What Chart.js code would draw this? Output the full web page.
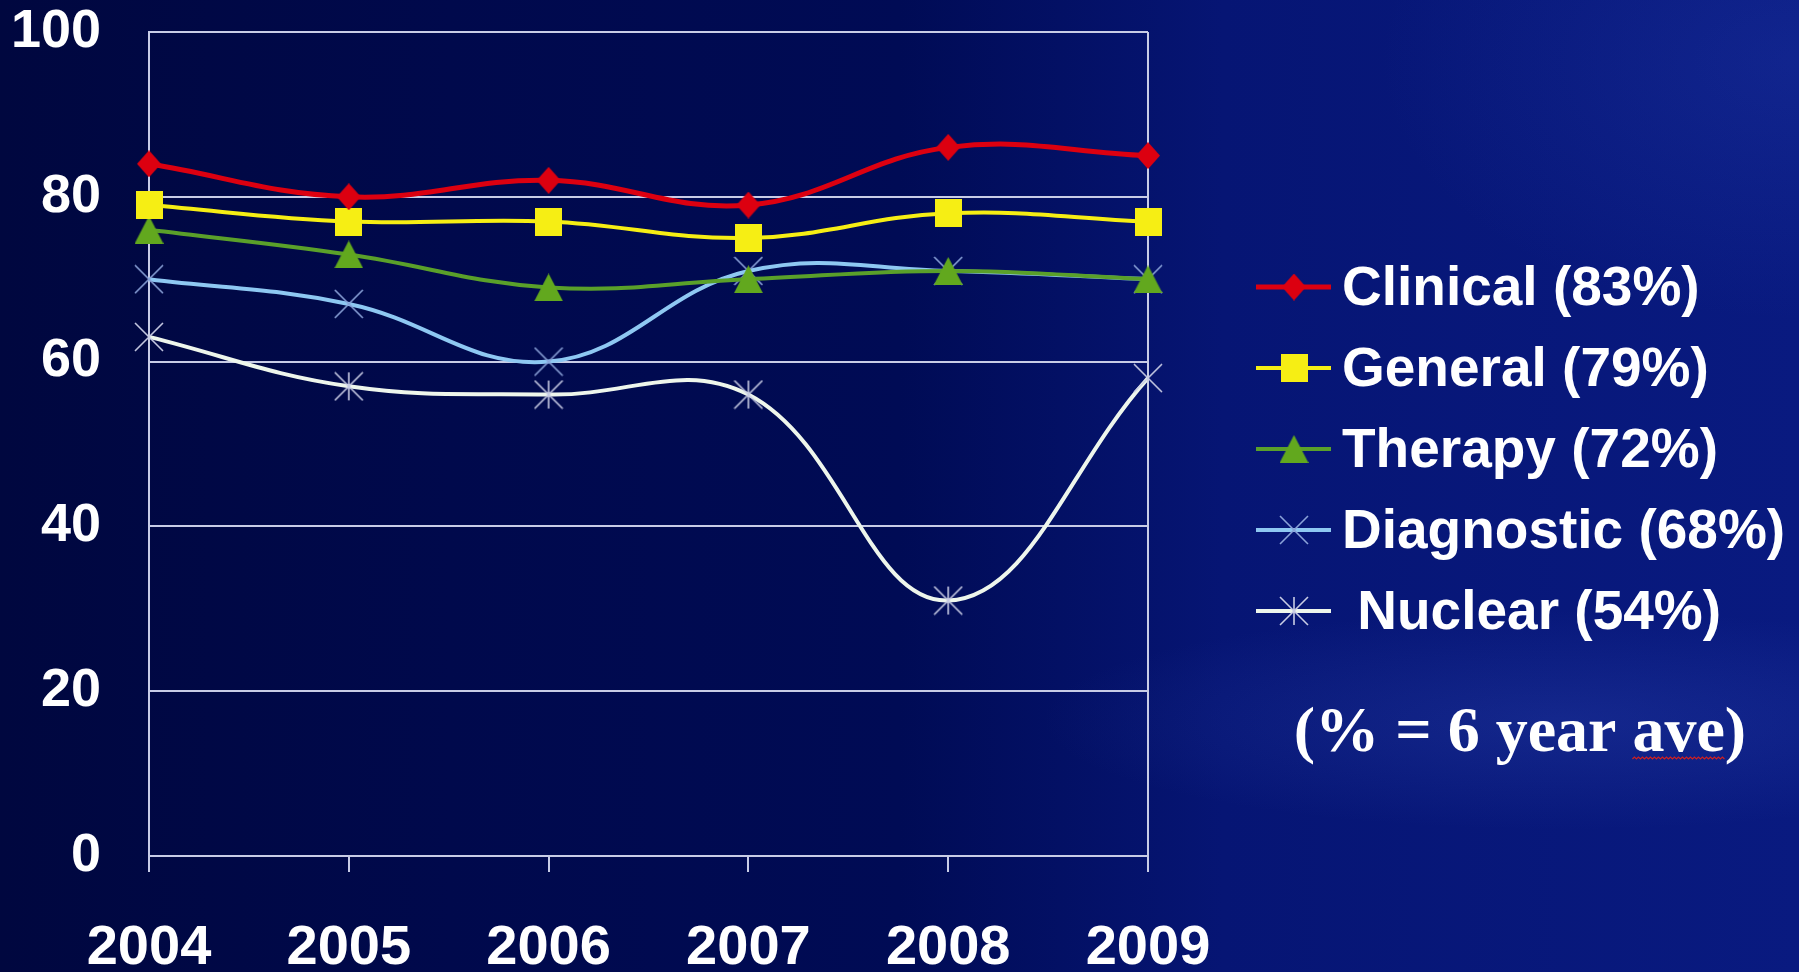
<!DOCTYPE html>
<html>
<head>
<meta charset="utf-8">
<title>Pass rates 2004-2009</title>
<script src="https://cdn.jsdelivr.net/npm/chart.js@4.4.1/dist/chart.umd.min.js"></script>
<style>
  html, body { margin: 0; padding: 0; }
  body {
    width: 1799px; height: 972px; overflow: hidden;
    background:
      radial-gradient(ellipse 520px 110px at 1560px 720px, rgba(70,100,210,0.20), rgba(0,0,0,0)),
      radial-gradient(ellipse 420px 260px at 1800px 60px, rgba(50,80,200,0.20), rgba(0,0,0,0)),
      linear-gradient(90deg, #00073f 0%, #00094c 25%, #000b55 50%, #061574 68%, #091a80 100%);
  }
  #wrap { position: relative; width: 1799px; height: 972px; }
</style>
</head>
<body>
<div id="wrap"><canvas id="chart"></canvas></div>
<script>
// --- Dados ---
const years = ['2004', '2005', '2006', '2007', '2008', '2009'];
const clinical = [84, 80, 82, 79, 86, 85];
const general = [79, 77, 77, 75, 78, 77];
const therapy = [76, 73, 69, 70, 71, 70];
const diagnostic = [70, 67, 60, 71, 71, 70];
const nuclear = [63, 57, 56, 56, 31, 58];
const legendLabels = ['Clinical (83%)', 'General (79%)', 'Therapy (72%)', 'Diagnostic (68%)', ' Nuclear (54%)'];
const yTicks = [0, 20, 40, 60, 80, 100];
const noteText = '(% = 6 year ave)';

const gridColor = '#c8cce6';
const sansBold = '"Liberation Sans", Arial, sans-serif';

// --- Marcadores desenhados num canvas pequeno ---
function makeMarker(kind, w, h, color) {
  const c = document.createElement('canvas');
  c.width = w; c.height = h;
  const g = c.getContext('2d');
  g.fillStyle = color;
  g.strokeStyle = color;
  g.lineWidth = 1.6;
  g.beginPath();
  if (kind === 'diamond') {
    g.moveTo(w / 2, 0); g.lineTo(w, h / 2); g.lineTo(w / 2, h); g.lineTo(0, h / 2);
    g.closePath(); g.fill();
  } else if (kind === 'square') {
    g.fillRect(0, 0, w, h);
  } else if (kind === 'triangle') {
    g.moveTo(w / 2, 0); g.lineTo(w, h); g.lineTo(0, h);
    g.closePath(); g.fill();
  } else {
    g.moveTo(1, 1); g.lineTo(w - 1, h - 1);
    g.moveTo(w - 1, 1); g.lineTo(1, h - 1);
    if (kind === 'star') {
      g.moveTo(w / 2, 1); g.lineTo(w / 2, h - 1);
    }
    g.stroke();
  }
  return c;
}

const markers = [
  makeMarker('diamond', 24, 27, '#dc0010'),
  makeMarker('square', 27, 28, '#f6ee14'),
  makeMarker('triangle', 29, 28, '#62a81e'),
  makeMarker('cross', 30, 30, '#8aa2d8'),
  makeMarker('star', 30, 30, '#c8cce4')
];

function dataset(label, values, color, marker, width) {
  return {
    label: label,
    data: values,
    borderColor: color,
    backgroundColor: color,
    borderWidth: width,
    pointStyle: marker,
    pointRadius: 14,
    pointHoverRadius: 14,
    tension: 0.4,
    clip: false
  };
}

// --- Legenda à direita e nota ---
const sideLegend = {
  id: 'sideLegend',
  afterDraw(chart) {
    const ctx = chart.ctx;
    ctx.save();
    chart.data.datasets.forEach((ds, i) => {
      const y = 287 + i * 81;
      ctx.strokeStyle = ds.borderColor;
      ctx.lineWidth = ds.borderWidth;
      ctx.beginPath();
      ctx.moveTo(1256, y);
      ctx.lineTo(1331, y);
      ctx.stroke();
      const m = ds.pointStyle;
      ctx.drawImage(m, 1294 - m.width / 2, y - m.height / 2);
      ctx.fillStyle = '#ffffff';
      ctx.font = 'bold 55px ' + sansBold;
      ctx.textAlign = 'left';
      ctx.textBaseline = 'middle';
      ctx.fillText(legendLabels[i], 1342, y + 3);
    });

    ctx.font = 'bold 64px "Liberation Serif", "Times New Roman", serif';
    ctx.textAlign = 'left';
    ctx.textBaseline = 'middle';
    const total = ctx.measureText(noteText).width;
    const x0 = 1520 - total / 2;
    ctx.fillText(noteText, x0, 734);

    // sublinhado ondulado sob "ave"
    const start = x0 + ctx.measureText('(% = 6 year ').width;
    const aveW = ctx.measureText('ave').width;
    ctx.strokeStyle = '#d02020';
    ctx.lineWidth = 1.2;
    ctx.beginPath();
    let up = true;
    ctx.moveTo(start, 759);
    for (let x = start + 2; x <= start + aveW; x += 2) {
      ctx.lineTo(x, up ? 757 : 759);
      up = !up;
    }
    ctx.stroke();
    ctx.restore();
  }
};

const chart = new Chart(document.getElementById('chart'), {
  type: 'line',
  data: {
    labels: years,
    datasets: [
      dataset(legendLabels[0], clinical, '#dc0010', markers[0], 5),
      dataset(legendLabels[1], general, '#f6ee14', markers[1], 4),
      dataset(legendLabels[2], therapy, '#5aa02a', markers[2], 4),
      dataset(legendLabels[3], diagnostic, '#8ec8f2', markers[3], 4),
      dataset(legendLabels[4], nuclear, '#eef6ec', markers[4], 4)
    ]
  },
  options: {
    responsive: true,
    maintainAspectRatio: false,
    animation: false,
    layout: { padding: { top: 32, right: 651, bottom: 0, left: 0 } },
    plugins: {
      legend: { display: false },
      tooltip: { enabled: false }
    },
    scales: {
      x: {
        offset: false,
        afterFit(scale) { scale.height = 116; },
        grid: {
          color: ctx => (ctx.index === 0 || ctx.index === years.length - 1) ? gridColor : 'rgba(0,0,0,0)',
          tickColor: gridColor,
          tickLength: 16,
          lineWidth: 2
        },
        border: { display: true, color: gridColor, width: 2 },
        ticks: {
          color: '#ffffff',
          padding: 49,
          maxRotation: 0,
          font: { family: sansBold, weight: 'bold', size: 56, lineHeight: 1 }
        }
      },
      y: {
        min: 0,
        max: 100,
        afterFit(scale) {
          scale.width = 149;
          scale.paddingTop = 0;
          scale.paddingBottom = 0;
        },
        afterBuildTicks(scale) { scale.ticks = yTicks.map(v => ({ value: v })); },
        grid: { color: gridColor, lineWidth: 2, drawTicks: false },
        border: { display: true, color: gridColor, width: 2 },
        ticks: {
          color: '#ffffff',
          padding: 48,
          font: { family: sansBold, weight: 'bold', size: 54, lineHeight: 1 }
        }
      }
    }
  },
  plugins: [sideLegend]
});
</script>
</body>
</html>
